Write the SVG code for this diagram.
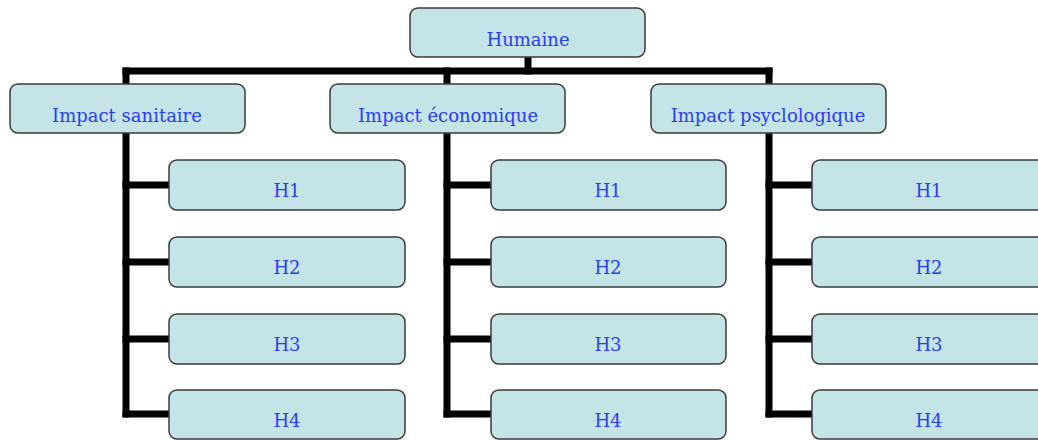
<svg xmlns="http://www.w3.org/2000/svg" width="1038" height="441" viewBox="0 0 1038 441">
<style>
.box{fill:#c5e4e8;stroke:#3a3a3a;stroke-width:1.5}
.lbl{font-family:"DejaVu Serif","Liberation Serif",serif;font-size:18px;fill:#2a3cf5;text-anchor:middle}
.con{stroke:#000;stroke-width:7;stroke-linecap:square;fill:none}
</style>
<rect width="1038" height="441" fill="#fff"/>
<g id="connectors">
<line class="con" x1="126" y1="71" x2="769" y2="71"/>
<line class="con" x1="528" y1="57" x2="528" y2="71"/>
<line class="con" x1="126" y1="71" x2="126" y2="414"/>
<line class="con" x1="447" y1="71" x2="447" y2="414"/>
<line class="con" x1="769" y1="71" x2="769" y2="414"/>
<path class="con" d="M126,185H169M126,262H169M126,339H169M126,414H169"/>
<path class="con" d="M447,185H491M447,262H491M447,339H491M447,414H491"/>
<path class="con" d="M769,185H812M769,262H812M769,339H812M769,414H812"/>
</g>
<g id="humaine"><rect class="box" x="410" y="8" width="235" height="49" rx="8"/><text class="lbl" x="528" y="45.5">Humaine</text></g>
<g id="sanitaire"><rect class="box" x="10" y="84" width="235" height="49" rx="8"/><text class="lbl" x="127" y="121.5">Impact sanitaire</text></g>
<g id="economique"><rect class="box" x="330" y="84" width="235" height="49" rx="8"/><text class="lbl" x="448" y="121.5">Impact économique</text></g>
<g id="psycho"><rect class="box" x="651" y="84" width="235" height="49" rx="8"/><text class="lbl" x="768" y="121.5">Impact psyclologique</text></g>
<g id="s-h1"><rect class="box" x="169" y="160" width="236" height="50" rx="8"/><text class="lbl" x="287" y="197">H1</text></g>
<g id="s-h2"><rect class="box" x="169" y="237" width="236" height="50" rx="8"/><text class="lbl" x="287" y="274">H2</text></g>
<g id="s-h3"><rect class="box" x="169" y="314" width="236" height="50" rx="8"/><text class="lbl" x="287" y="351">H3</text></g>
<g id="s-h4"><rect class="box" x="169" y="390" width="236" height="49" rx="8"/><text class="lbl" x="287" y="427">H4</text></g>
<g id="e-h1"><rect class="box" x="491" y="160" width="235" height="50" rx="8"/><text class="lbl" x="608" y="197">H1</text></g>
<g id="e-h2"><rect class="box" x="491" y="237" width="235" height="50" rx="8"/><text class="lbl" x="608" y="274">H2</text></g>
<g id="e-h3"><rect class="box" x="491" y="314" width="235" height="50" rx="8"/><text class="lbl" x="608" y="351">H3</text></g>
<g id="e-h4"><rect class="box" x="491" y="390" width="235" height="49" rx="8"/><text class="lbl" x="608" y="427">H4</text></g>
<g id="p-h1"><rect class="box" x="812" y="160" width="236" height="50" rx="8"/><text class="lbl" x="929" y="197">H1</text></g>
<g id="p-h2"><rect class="box" x="812" y="237" width="236" height="50" rx="8"/><text class="lbl" x="929" y="274">H2</text></g>
<g id="p-h3"><rect class="box" x="812" y="314" width="236" height="50" rx="8"/><text class="lbl" x="929" y="351">H3</text></g>
<g id="p-h4"><rect class="box" x="812" y="390" width="236" height="49" rx="8"/><text class="lbl" x="929" y="427">H4</text></g>
</svg>
